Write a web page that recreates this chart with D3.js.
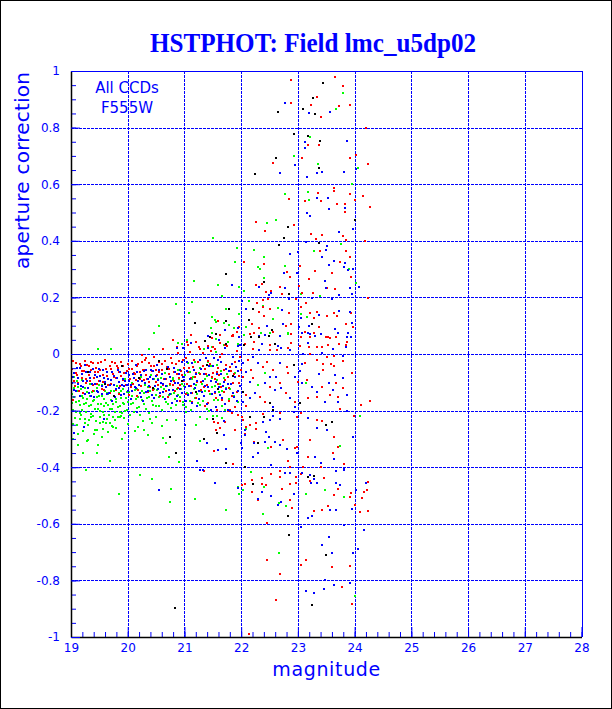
<!DOCTYPE html>
<html>
<head>
<meta charset="utf-8">
<script src="https://cdn.jsdelivr.net/npm/d3@7"></script>
<style>
  body { margin: 0; background: #fff; }
  svg { display: block; }
</style>
</head>
<body>
<div id="chart"></div>
<script>
// tick values and labels
var xTicks = [19, 20, 21, 22, 23, 24, 25, 26, 27, 28];
var yTicks = [-1, -0.8, -0.6, -0.4, -0.2, 0, 0.2, 0.4, 0.6, 0.8, 1];
var yTickLabels = ["-1", "-0.8", "-0.6", "-0.4", "-0.2", "0", "0.2", "0.4", "0.6", "0.8", "1"];

// points: [magnitude, aperture correction]
var redPts = [
  [22.87,0.968],[23.65,0.978],[23.79,0.948],[23.33,0.909],[22.87,0.886],[23.23,0.879],[23.72,0.876],[23.92,0.880],
  [23.40,0.837],[24.20,0.799],[23.17,0.739],[23.37,0.737],[23.07,0.693],[23.92,0.694],[24.03,0.704],[22.56,0.676],
  [24.23,0.672],[23.63,0.588],[23.63,0.575],[23.35,0.569],[23.92,0.565],[24.15,0.559],[22.84,0.549],[23.12,0.542],
  [23.40,0.541],[24.00,0.544],[23.69,0.530],[23.83,0.530],[24.28,0.520],
  [22.26,0.466],[22.93,0.455],[22.42,0.436],[23.23,0.424],[23.43,0.422],[23.79,0.417],[23.84,0.403],[23.83,0.502],
  [23.32,0.407],[24.19,0.400],[23.84,0.365],[23.39,0.364],[22.05,0.326],[22.41,0.319],[23.74,0.324],[23.92,0.344],
  [23.03,0.312],[22.80,0.291],[22.86,0.272],[23.30,0.294],[23.61,0.285],[23.19,0.264],[23.93,0.272],[22.26,0.245],
  [22.36,0.246],[22.68,0.238],[22.53,0.223],[22.43,0.219],[22.72,0.212],[23.52,0.233],[23.65,0.231],[23.02,0.241],
  [23.08,0.216],[23.27,0.217],[24.24,0.199],[22.38,0.191],[22.28,0.181],[22.47,0.195],[22.96,0.195],[23.33,0.149],
  [23.14,0.181],[22.38,0.165],[22.32,0.149],[22.50,0.158],[22.84,0.144],[23.05,0.165],[23.21,0.146],[23.51,0.134],
  [23.63,0.146],[23.69,0.135],[23.93,0.144],[23.29,0.128],[22.41,0.133],[21.96,0.094],[22.19,0.106],[22.79,0.100],
  [22.87,0.107],[23.37,0.096],[23.84,0.107],[23.97,0.094],[22.31,0.093],[22.56,0.079],[22.87,0.071],[21.85,0.067],
  [22.22,0.073],[23.05,0.061],[23.12,0.077],[23.50,0.061],[23.57,0.058],[23.68,0.059],[23.87,0.043],[21.72,0.033],
  [22.23,0.042],[22.50,0.031],[22.87,0.039],[22.83,0.022],[23.03,0.028],[23.53,0.031],[23.42,0.026],[23.73,0.034],
  [22.68,-0.413],[22.53,-0.425],[22.68,-0.434],[22.36,-0.439],[22.96,-0.434],[23.06,-0.424],[23.46,-0.439],[23.21,-0.448],
  [22.19,-0.445],[22.06,-0.459],[22.01,-0.463],[22.36,-0.459],[22.43,-0.463],[22.72,-0.476],[22.86,-0.459],[22.96,-0.455],
  [23.70,-0.476],[24.23,-0.453],[24.22,-0.481],[24.16,-0.487],[23.93,-0.492],[22.19,-0.488],[23.63,-0.498],[23.92,-0.504],
  [22.29,-0.515],[24.13,-0.510],[22.86,-0.515],[22.89,-0.544],[23.53,-0.536],[24.00,-0.533],[23.28,-0.554],[23.42,-0.551],
  [24.09,-0.557],[24.23,-0.554],[22.45,-0.596],[22.45,-0.729],[23.14,-0.728],[23.05,-0.746],[23.92,-0.749],[23.60,-0.753],
  [22.69,-0.778],[23.77,-0.823],[22.61,-0.868],[23.95,-0.883],[22.13,-0.990],
  [21.59,0.118],[21.63,0.068],[21.11,0.067],[21.85,0.064],[21.92,0.077],[20.79,0.049],[21.04,0.042],[21.20,0.042],
  [20.87,0.026],[21.62,0.040],[21.27,0.019],[21.41,0.028],[21.54,0.019],[21.34,-0.413],
  [21.52,-0.239],[21.60,-0.243],[21.80,-0.198],[22.03,-0.233],[22.02,-0.222],[21.55,-0.269],[21.62,-0.263],[22.09,-0.257],
  [22.07,-0.283],[22.23,-0.310],[21.52,-0.342],[21.86,-0.389],[24.27,-0.165],[24.11,-0.181],[23.99,-0.219],[23.74,-0.195],
  [23.64,-0.292],[23.71,-0.328],[23.62,-0.351],[23.81,-0.389],[23.33,-0.233],[23.42,-0.236],[23.21,-0.304],[23.18,-0.363],
  [23.40,-0.398],[23.09,-0.398],[22.98,-0.328],[22.95,-0.333],[22.83,-0.378],[22.74,-0.304],[22.53,-0.328],[22.27,-0.266],
  [22.26,-0.243],[22.38,-0.212],[22.15,-0.251],[21.89,-0.269],[22.06,-0.401],[22.86,-0.398],[22.68,-0.207],[22.98,-0.222],
  [23.06,-0.210],[21.83,-0.210],[21.71,-0.240],
  [22.15,0.070],[23.28,0.075],[23.21,0.059],[23.53,0.059],[22.06,0.034],[22.21,0.017],[22.50,0.014],[22.63,0.014],
  [23.33,0.024],[23.20,0.026],[23.84,0.032],[23.80,-0.024],[23.21,0.000],[23.52,-0.010],[23.64,-0.007],[23.33,-0.021],
  [23.12,-0.033],[23.44,-0.036],[23.58,-0.036],[23.63,-0.042],[23.95,-0.068],[23.44,-0.057],[23.00,-0.098],[23.16,-0.092],
  [23.43,-0.118],[23.67,-0.104],[23.56,-0.145],[23.71,-0.151],[23.33,-0.151],[23.18,-0.154],[23.80,-0.121],[22.81,-0.045],
  [22.83,-0.068],[22.56,-0.057],[22.68,-0.104],[22.79,-0.139],[22.95,-0.169],[22.45,-0.027],[22.39,-0.045],[22.50,-0.116],
  [22.42,-0.169],[22.33,-0.151],[22.09,-0.145],[22.09,-0.184],[22.21,-0.086],[22.03,-0.080],[22.18,-0.057],[22.12,-0.021],
  [21.98,-0.010],
  [19.02,-0.053],[19.05,-0.097],[19.08,-0.031],[19.11,-0.075],[19.14,-0.129],[19.17,-0.042],[19.20,-0.086],[19.23,-0.060],
  [19.26,-0.104],[19.29,-0.038],[19.32,-0.073],[19.35,-0.057],[19.38,-0.111],[19.41,-0.085],[19.44,-0.049],[19.47,-0.062],
  [19.50,-0.096],[19.53,-0.030],[19.56,-0.074],[19.59,-0.128],[19.62,-0.053],[19.65,-0.087],[19.68,-0.041],[19.71,-0.105],
  [19.74,-0.069],[19.77,-0.032],[19.80,-0.086],[19.83,-0.050],[19.86,-0.114],[19.89,-0.078],[19.92,-0.043],[19.95,-0.097],
  [19.98,-0.061],[20.01,-0.035],[20.04,-0.089],[20.07,-0.052],[20.10,-0.106],[20.13,-0.070],[20.16,-0.044],[20.19,-0.128],
  [20.22,-0.063],[20.25,-0.027],[20.28,-0.091],[20.31,-0.055],[20.34,-0.089],[20.37,-0.032],[20.40,-0.116],[20.43,-0.060],
  [20.46,-0.044],[20.49,-0.098],[20.52,-0.073],[20.55,-0.027],[20.58,-0.101],[20.61,-0.055],[20.64,-0.089],[20.67,-0.132],
  [20.70,-0.046],[20.73,-0.070],[20.76,-0.014],[20.79,-0.108],[20.82,-0.063],[20.85,-0.037],[20.88,-0.121],[20.91,-0.085],
  [20.94,-0.059],[20.97,-0.022],[21.00,-0.096],[21.03,-0.140],[21.06,-0.064],[21.09,0.008],[21.12,-0.113],[21.15,-0.047],
  [21.18,-0.081],[21.21,-0.155],[21.24,-0.029],[21.27,-0.072],[21.30,-0.126],[21.33,0.004],[21.36,-0.054],[21.39,-0.108],
  [21.42,-0.173],[21.45,-0.037],[21.48,-0.081],[21.51,0.025],[21.54,-0.139],[21.57,-0.062],[21.60,-0.106],[21.63,-0.010],
  [21.66,-0.164],[21.69,-0.058],[21.72,-0.093],[21.75,0.027],[21.78,-0.121],[21.81,-0.045],[21.84,-0.149],[21.87,-0.072],
  [21.90,-0.186],[21.93,0.010],[21.96,-0.104],[21.99,-0.058],[19.03,-0.163],[19.38,-0.032],[20.33,-0.015],[20.88,0.005],
  [19.04,-0.024],[19.09,-0.068],[19.12,-0.102],[19.16,-0.036],[19.19,-0.059],[19.24,-0.023],[19.27,-0.087],[19.31,-0.041],
  [19.34,-0.095],[19.36,-0.029],[19.42,-0.063],[19.45,-0.107],[19.48,-0.031],[19.52,-0.055],[19.57,-0.099],[19.60,-0.022],
  [19.63,-0.076],[19.66,-0.110],[19.70,-0.054],[19.72,-0.028],[19.76,-0.083],[19.79,-0.127],[19.81,-0.041],[19.85,-0.065],
  [19.88,-0.029],[19.91,-0.092],[19.94,-0.066],[19.97,-0.110],[20.02,-0.054],[20.05,-0.118],[20.08,-0.023],[20.11,-0.067],
  [20.14,-0.091],[20.18,-0.035],[20.21,-0.089],[20.24,-0.112],[20.27,-0.056],[20.30,-0.020],[20.33,-0.074],[20.38,-0.098],
  [20.41,-0.043],[20.44,-0.127],[20.47,-0.011],[20.50,-0.055],[20.53,-0.109],[20.56,-0.062],[20.60,-0.036],[20.62,-0.110],
  [20.65,-0.024],[20.68,-0.088],[20.72,-0.053],[20.74,-0.107],[20.78,-0.031],[20.81,-0.095],[20.83,-0.129],[20.86,-0.072],
  [20.90,-0.026],[20.93,-0.110],[20.96,-0.074],[20.99,-0.048],[21.02,-0.013],[21.05,-0.107],[21.08,-0.051],[21.11,-0.085],
  [21.14,-0.139],[21.17,-0.022],[21.20,-0.066],[21.23,-0.100],[21.26,0.024],[21.29,-0.098],[21.32,-0.043],[21.35,-0.117],
  [21.38,-0.071],[21.41,-0.025],[21.44,-0.129],[21.47,0.012],[21.50,-0.066],[21.53,-0.090],[21.56,-0.154],[21.59,-0.048],
  [21.61,-0.073],[21.64,-0.117],[21.67,0.001],[21.70,-0.135],[21.73,-0.039],[21.76,-0.082],[21.79,-0.166],[21.82,-0.060],
  [21.86,-0.104],[21.89,-0.028],[21.92,-0.133],[21.97,-0.077],
  [19.07,-0.113],[19.21,-0.137],[19.39,-0.131],[19.54,-0.125],[19.69,-0.139],[19.84,-0.142],[20.03,-0.146],[20.17,-0.150],
  [20.36,-0.134],[20.57,-0.148],[20.71,-0.152],[20.92,-0.166],[21.13,-0.170],[21.37,-0.184],[21.58,-0.198],[21.77,-0.202],
  [21.94,-0.216],[20.26,-0.003],[20.63,0.017],[21.06,0.031],[21.49,0.055],[21.83,0.062]
];

var bluePts = [
  [22.77,0.886],[23.19,0.853],[23.56,0.855],[23.86,0.754],[23.12,0.750],[23.12,0.728],[22.95,0.667],[24.02,0.654],
  [22.68,0.641],[23.33,0.639],[23.42,0.642],[23.81,0.643],[23.16,0.627],[23.33,0.552],[23.53,0.550],[23.54,0.511],
  [23.83,0.515],[23.16,0.497],[23.22,0.488],[23.72,0.431],[23.97,0.441],[23.51,0.383],[23.15,0.396],[23.50,0.367],
  [22.86,0.354],[23.00,0.361],[23.43,0.344],[23.63,0.329],[23.83,0.320],[23.55,0.313],[23.81,0.308],[23.88,0.297],
  [23.98,0.300],[22.76,0.285],[22.98,0.287],[23.47,0.259],[21.83,0.244],[22.32,0.236],[22.77,0.233],[23.49,0.233],
  [23.91,0.233],[24.07,0.238],[22.49,0.208],[22.53,0.214],[23.72,0.208],[23.96,0.211],[22.01,0.188],[22.84,0.195],
  [23.24,0.197],[23.61,0.193],[22.08,0.158],[22.72,0.157],[23.37,0.139],[23.73,0.152],[23.92,0.148],[23.06,0.126],
  [22.73,0.107],[23.02,0.096],[23.20,0.099],[23.66,0.089],[23.95,0.110],[22.46,0.099],[22.42,0.068],[22.68,0.065],
  [23.21,0.071],[23.30,0.064],[23.71,0.075],[23.89,0.073],[23.93,0.059],[22.36,0.036],[22.65,0.029],[23.18,0.038],
  [23.84,0.026],
  [22.77,-0.419],[22.86,-0.419],[23.07,-0.419],[23.21,-0.428],[23.67,-0.413],[23.81,-0.410],[23.28,-0.442],[23.23,-0.455],
  [23.33,-0.455],[21.94,-0.473],[23.68,-0.455],[23.75,-0.462],[24.02,-0.480],[24.20,-0.455],[22.36,-0.488],[22.93,-0.495],
  [22.29,-0.511],[22.53,-0.502],[22.70,-0.522],[22.65,-0.533],[23.95,-0.548],[23.56,-0.551],[23.67,-0.551],[23.24,-0.572],
  [23.17,-0.581],[23.82,-0.604],[23.05,-0.612],[24.17,-0.622],[23.54,-0.648],[23.42,-0.674],[24.06,-0.689],[23.97,-0.702],
  [23.61,-0.702],[23.47,-0.799],[23.92,-0.808],[23.63,-0.816],[23.46,-0.829],[23.14,-0.839],[23.28,-0.845],
  [21.94,0.092],[21.41,0.064],[21.72,0.085],[21.61,0.049],[21.11,0.040],[21.95,0.029],[20.86,0.022],[20.98,0.021],
  [21.42,0.022],[21.71,0.021],[20.55,-0.481],[21.28,-0.410],[21.53,-0.456],
  [19.58,-0.231],[19.23,-0.257],[19.06,-0.280],[20.16,-0.204],[21.01,-0.250],[21.69,-0.236],[21.40,-0.313],[21.69,-0.286],
  [22.07,-0.269],[22.02,-0.333],[22.21,-0.363],[21.23,-0.377],[21.59,-0.339],[21.74,-0.337],[21.33,-0.410],[22.23,-0.316],
  [23.86,-0.200],[23.97,-0.294],[23.64,-0.372],[23.81,-0.407],[23.33,-0.263],[23.52,-0.269],[23.18,-0.227],[23.30,-0.363],
  [23.40,-0.384],[22.98,-0.351],[22.81,-0.337],[22.68,-0.322],[22.59,-0.310],[22.49,-0.292],[22.42,-0.310],[22.30,-0.351],
  [22.43,-0.275],[22.39,-0.239],[22.50,-0.233],[22.68,-0.231],[22.16,-0.224],[22.06,-0.286],[22.00,-0.316],[22.53,-0.392],
  [22.56,-0.219],[22.93,-0.206],
  [21.96,0.061],[22.32,0.064],[23.08,0.075],[23.18,0.073],[23.40,0.071],[23.86,0.059],[21.98,0.032],[22.32,0.014],
  [22.71,0.020],[22.86,0.014],[23.62,0.017],[23.80,-0.006],[23.42,0.002],[23.09,0.000],[23.08,-0.035],[23.37,-0.071],
  [23.03,-0.059],[22.95,-0.080],[23.07,-0.104],[23.24,-0.116],[23.34,-0.133],[23.55,-0.101],[23.62,-0.127],[23.47,-0.169],
  [23.70,-0.170],[23.86,-0.145],[23.80,-0.086],[23.65,-0.074],[22.68,-0.033],[22.62,-0.080],[22.71,-0.121],[22.86,-0.157],
  [22.95,-0.186],[22.30,-0.033],[22.50,-0.080],[22.42,-0.101],[22.59,-0.127],[22.56,-0.188],[22.24,-0.139],[22.15,-0.157],
  [22.03,-0.169],[22.15,-0.098],[22.09,-0.063],[22.21,-0.010],[22.03,-0.033],
  [19.03,-0.083],[19.06,-0.127],[19.10,-0.051],[19.13,-0.105],[19.16,-0.149],[19.19,-0.072],[19.22,-0.116],[19.25,-0.040],
  [19.28,-0.094],[19.31,-0.138],[19.34,-0.063],[19.37,-0.107],[19.40,-0.151],[19.43,-0.075],[19.46,-0.129],[19.49,-0.052],
  [19.52,-0.096],[19.55,-0.140],[19.58,-0.084],[19.61,-0.118],[19.64,-0.063],[19.67,-0.137],[19.70,-0.091],[19.73,-0.165],
  [19.76,-0.079],[19.79,-0.122],[19.82,-0.056],[19.85,-0.100],[19.88,-0.144],[19.91,-0.088],[19.94,-0.113],[19.97,-0.067],
  [20.00,-0.131],[20.03,-0.095],[20.06,-0.159],[20.09,-0.072],[20.12,-0.116],[20.15,-0.040],[20.18,-0.094],[20.21,-0.138],
  [20.24,-0.073],[20.27,-0.167],[20.30,-0.101],[20.33,-0.055],[20.36,-0.129],[20.39,-0.082],[20.42,-0.146],[20.45,-0.060],
  [20.48,-0.114],[20.51,-0.038],[20.54,-0.093],[20.57,-0.137],[20.60,-0.071],[20.63,-0.105],[20.66,-0.159],[20.69,-0.052],
  [20.72,-0.126],[20.75,-0.080],[20.78,-0.174],[20.81,-0.048],[20.84,-0.103],[20.87,-0.147],[20.90,-0.071],[20.93,-0.125],
  [20.96,-0.029],[20.99,-0.092],[21.02,-0.166],[21.05,-0.060],[21.08,-0.114],[21.11,-0.138],[21.14,-0.033],[21.17,-0.107],
  [21.20,-0.071],[21.23,-0.185],[21.26,-0.129],[21.29,-0.052],[21.32,-0.096],[21.35,-0.150],[21.38,-0.014],[21.41,-0.118],
  [21.44,-0.073],[21.47,-0.197],[21.50,-0.041],[21.53,-0.135],[21.56,-0.099],[21.59,-0.022],[21.62,-0.146],[21.65,-0.070],
  [21.68,-0.114],[21.71,-0.178],[21.74,-0.053],[21.77,-0.107],[21.80,-0.201],[21.83,-0.035],[21.86,-0.139],[21.89,-0.082],
  [21.92,-0.166],[21.95,-0.060],[21.98,-0.114],
  [19.02,-0.104],[19.05,-0.068],[19.08,-0.132],[19.12,-0.086],[19.15,-0.049],[19.18,-0.113],[19.21,-0.097],[19.24,-0.141],
  [19.27,-0.065],[19.30,-0.119],[19.33,-0.084],[19.36,-0.148],[19.39,-0.052],[19.42,-0.106],[19.45,-0.080],[19.48,-0.134],
  [19.51,-0.078],[19.54,-0.112],[19.57,-0.056],[19.60,-0.099],[19.63,-0.143],[19.66,-0.087],[19.69,-0.111],[19.72,-0.065],
  [19.75,-0.109],[19.78,-0.152],[19.81,-0.086],[19.84,-0.120],[19.87,-0.064],[19.90,-0.108],[19.93,-0.143],[19.96,-0.097],
  [19.99,-0.111],[20.02,-0.075],[20.05,-0.109],[20.08,-0.132],[20.11,-0.086],[20.14,-0.120],[20.17,-0.064],[20.20,-0.108],
  [20.23,-0.153],[20.26,-0.097],[20.29,-0.061],[20.32,-0.135],[20.35,-0.089],[20.38,-0.112],[20.41,-0.056],[20.44,-0.090],
  [20.47,-0.154],[20.50,-0.078],[20.53,-0.123],[20.56,-0.057],[20.59,-0.101],[20.62,-0.135],[20.65,-0.089],[20.68,-0.112],
  [20.71,-0.046],[20.74,-0.140],[20.77,-0.094],[20.80,-0.128],[20.83,-0.063],[20.86,-0.167],[20.89,-0.101],[20.92,-0.055],
  [20.95,-0.139],[20.98,-0.082],[21.01,-0.116],[21.04,-0.030],[21.07,-0.144],[21.10,-0.088],[21.13,-0.173],[21.16,-0.057],
  [21.19,-0.121],[21.22,-0.095],[21.25,-0.159],[21.28,-0.022],[21.31,-0.136],[21.34,-0.070],[21.37,-0.114],[21.40,-0.178],
  [21.43,-0.043],[21.46,-0.097],[21.49,-0.141],[21.52,-0.015],[21.55,-0.189],[21.58,-0.072],[21.61,-0.116],[21.64,-0.030],
  [21.67,-0.154],[21.70,-0.098],[21.73,-0.123],[21.76,-0.197],[21.79,-0.061],[21.82,-0.105],[21.85,-0.009],[21.88,-0.152],
  [21.91,-0.046],[21.94,-0.130],[21.97,-0.024]
];

var greenPts = [
  [23.79,0.921],[23.67,0.866],[23.21,0.767],[22.93,0.699],[23.35,0.670],[24.06,0.658],[23.96,0.601],[22.77,0.565],
  [23.17,0.572],[23.19,0.543],[22.45,0.463],[22.62,0.473],[23.76,0.390],[21.92,0.376],[22.23,0.367],[23.29,0.365],
  [21.90,0.326],[22.40,0.342],[22.78,0.312],[22.29,0.308],[22.34,0.300],[23.90,0.301],[22.41,0.269],[21.96,0.238],
  [22.05,0.223],[24.03,0.251],[23.05,0.212],[21.67,0.204],[22.13,0.188],[23.39,0.204],[21.73,0.158],[22.39,0.170],
  [21.96,0.141],[22.65,0.161],[23.05,0.140],[23.16,0.130],[22.56,0.123],[21.69,0.111],[21.87,0.092],[22.09,0.096],
  [22.35,0.074],[22.83,0.073],[22.05,0.068],[21.95,0.034],
  [21.95,-0.469],[22.40,-0.469],[23.47,-0.481],[22.04,-0.481],[21.96,-0.494],[23.14,-0.495],[23.81,-0.506],[22.66,-0.528],
  [22.79,-0.537],[21.73,-0.551],[22.38,-0.565],[22.66,-0.702],[24.00,-0.855],
  [21.50,0.411],[21.59,0.244],[21.16,0.259],[21.13,0.184],[20.85,0.177],[21.08,0.144],[20.56,0.100],[21.48,0.132],
  [21.53,0.120],[21.56,0.113],[21.78,0.102],[20.47,0.075],[21.46,0.092],[21.48,0.075],[21.55,0.054],[20.89,0.040],
  [20.95,0.035],[21.05,0.049],[21.48,0.026],[19.47,0.017],[19.70,0.017],[20.37,0.017],[20.79,0.049],
  [19.26,-0.410],[20.21,-0.426],[20.42,-0.442],[20.76,-0.477],[19.84,-0.495],[20.74,-0.523],[21.19,-0.512],
  [19.15,-0.207],[19.36,-0.224],[19.58,-0.216],[19.74,-0.224],[19.86,-0.224],[19.89,-0.219],[19.24,-0.245],[19.51,-0.245],
  [19.68,-0.245],[19.74,-0.259],[19.56,-0.265],[19.46,-0.269],[19.04,-0.300],[19.28,-0.307],[19.12,-0.322],[19.47,-0.322],
  [19.96,-0.280],[20.18,-0.257],[20.29,-0.269],[20.27,-0.236],[20.39,-0.231],[20.42,-0.245],[20.62,-0.298],[20.67,-0.316],
  [20.73,-0.365],[20.90,-0.381],[19.22,-0.351],[19.46,-0.351],[19.68,-0.379],[21.02,-0.206],[20.85,-0.233],[20.69,-0.233],
  [21.20,-0.251],[21.28,-0.224],[21.39,-0.230],[21.66,-0.226],[21.58,-0.219],[21.28,-0.306],[23.75,-0.326],[24.09,-0.219],
  [22.09,-0.266],[22.47,-0.333],[22.18,-0.416],[22.50,0.075],[22.82,0.071],[23.15,-0.104],[22.42,-0.068],[22.30,-0.110],
  [19.01,-0.143],[19.03,-0.197],[19.05,-0.121],[19.07,-0.225],[19.09,-0.169],[19.11,-0.252],[19.13,-0.116],[19.15,-0.180],
  [19.17,-0.214],[19.19,-0.148],[19.21,-0.273],[19.23,-0.177],[19.25,-0.121],[19.27,-0.205],[19.29,-0.159],[19.31,-0.232],
  [19.33,-0.106],[19.35,-0.180],[19.37,-0.134],[19.39,-0.218],[19.41,-0.163],[19.43,-0.267],[19.45,-0.121],[19.47,-0.195],
  [19.49,-0.149],[19.51,-0.222],[19.53,-0.176],[19.55,-0.110],[19.57,-0.204],[19.59,-0.158],[19.61,-0.243],[19.63,-0.137],
  [19.65,-0.181],[19.67,-0.215],[19.69,-0.109],[19.71,-0.162],[19.73,-0.196],[19.75,-0.130],[19.77,-0.234],[19.79,-0.158],
  [19.81,-0.113],[19.83,-0.187],[19.85,-0.141],[19.87,-0.205],[19.89,-0.129],[19.91,-0.172],[19.93,-0.226],[19.95,-0.090],
  [19.97,-0.154],[19.99,-0.198],[20.02,-0.133],[20.05,-0.177],[20.08,-0.101],[20.11,-0.205],[20.14,-0.159],[20.17,-0.122],
  [20.20,-0.186],[20.23,-0.080],[20.26,-0.164],[20.29,-0.138],[20.32,-0.193],[20.35,-0.117],[20.38,-0.151],[20.41,-0.075],
  [20.44,-0.179],[20.47,-0.122],[20.50,-0.146],[20.53,-0.090],[20.56,-0.184],[20.59,-0.118],[20.62,-0.153],[20.65,-0.067],
  [20.68,-0.131],[20.71,-0.175],[20.74,-0.109],[20.77,-0.142],[20.80,-0.086],[20.83,-0.160],[20.86,-0.124],[20.89,-0.058],
  [20.92,-0.153],[20.95,-0.107],[20.98,-0.181],[21.01,-0.075],[21.04,-0.139],[21.07,-0.032],[21.10,-0.166],[21.13,-0.090],
  [21.16,-0.124],[21.19,-0.028],[21.22,-0.143],[21.25,-0.067],[21.28,-0.181],[21.31,-0.105],[21.34,0.019],[21.37,-0.132],
  [21.40,-0.076],[21.43,-0.200],[21.46,-0.044],[21.49,-0.118],[21.52,-0.163],[21.55,0.007],[21.58,-0.091],[21.61,-0.135],
  [21.64,-0.059],[21.67,-0.182],[21.70,-0.086],[21.73,-0.120],[21.76,0.044],[21.79,-0.158],[21.85,-0.103],[21.90,-0.067],
  [21.95,-0.171],
  [19.02,-0.174],[19.04,-0.248],[19.06,-0.152],[19.08,-0.206],[19.10,-0.130],[19.12,-0.283],[19.14,-0.167],[19.16,-0.231],
  [19.18,-0.125],[19.20,-0.199],[19.22,-0.154],[19.24,-0.228],[19.26,-0.172],[19.28,-0.136],[19.30,-0.250],[19.32,-0.183],
  [19.34,-0.147],[19.36,-0.211],[19.38,-0.165],[19.40,-0.129],[19.42,-0.194],[19.44,-0.238],[19.46,-0.152],[19.48,-0.176],
  [19.50,-0.110],[19.52,-0.203],[19.54,-0.147],[19.56,-0.241],[19.58,-0.185],[19.60,-0.129],[19.62,-0.174],[19.64,-0.228],
  [19.66,-0.142],[19.68,-0.196],[19.70,-0.130],[19.72,-0.253],[19.74,-0.177],[19.76,-0.111],[19.78,-0.205],[19.80,-0.169],
  [19.82,-0.224],[19.84,-0.138],[19.86,-0.182],[19.88,-0.156],[19.90,-0.210],[19.92,-0.123],[19.94,-0.177],[19.96,-0.201],
  [19.98,-0.135],[20.01,-0.169],[20.04,-0.214],[20.07,-0.148],[20.10,-0.172],[20.13,-0.126],[20.16,-0.190],[20.19,-0.153],
  [20.22,-0.217],[20.25,-0.131],[20.28,-0.175],[20.31,-0.109],[20.34,-0.154],[20.37,-0.208],[20.40,-0.132],[20.43,-0.166],
  [20.46,-0.090],[20.49,-0.183],[20.52,-0.127],[20.55,-0.151],[20.58,-0.085],[20.61,-0.199],[20.64,-0.124],[20.67,-0.168],
  [20.70,-0.112],[20.73,-0.146],[20.76,-0.190],[20.79,-0.093],[20.82,-0.137],[20.85,-0.181],[20.88,-0.145],[20.91,-0.089],
  [20.94,-0.124],[20.97,-0.168],[21.00,-0.112],[21.03,-0.186],[21.06,-0.140],[21.09,-0.063],[21.12,-0.197],[21.15,-0.081],
  [21.18,-0.155],[21.21,-0.109],[21.24,-0.174],[21.27,-0.048],[21.30,-0.132],[21.33,-0.166],[21.36,-0.090],[21.39,-0.193],
  [21.42,-0.027],[21.45,-0.141],[21.48,-0.085],[21.51,-0.219],[21.54,-0.114],[21.57,-0.038],[21.60,-0.162],[21.63,-0.106],
  [21.66,-0.130],[21.69,0.033],[21.72,-0.197],[21.75,-0.071],[21.81,-0.125],[21.88,-0.149],
  [19.05,-0.083],[19.10,-0.097],[19.20,-0.091],[19.30,-0.305],[19.40,-0.284],[19.55,-0.293],[19.65,-0.276],[19.80,-0.262],
  [19.90,-0.301],[20.00,-0.247],[20.12,-0.273],[20.35,-0.286],[20.50,-0.224],[20.60,-0.255]
];

var blackPts = [
  [23.45,0.957],[23.26,0.906],[23.09,0.865],[22.65,0.855],[23.30,0.849],[22.93,0.778],[23.17,0.769],[23.39,0.754],
  [22.62,0.694],[23.37,0.658],[22.24,0.636],[22.82,0.448],[24.00,0.473],[22.76,0.411],[23.37,0.393],[22.66,0.386],
  [21.74,0.282],[22.40,0.254],[22.84,0.212],[21.79,0.158],[22.20,0.160],[21.74,0.118],[22.14,0.120],[23.25,0.106],
  [22.55,0.086],[22.32,0.061],[22.17,0.059],[21.74,0.036],[22.05,0.033],[22.59,0.035],
  [23.17,-0.434],[23.29,-0.430],[22.20,-0.459],[22.82,-0.571],[22.84,-0.640],[23.50,-0.710],[23.25,-0.887],[20.84,-0.896],
  [21.18,0.111],[21.55,0.071],[21.45,0.061],[21.36,0.045],
  [21.50,-0.231],[22.15,-0.224],[21.35,-0.301],[21.58,-0.280],[20.74,-0.294],[20.85,-0.349],[21.74,-0.386],[22.07,-0.400],
  [23.60,-0.239],[23.50,-0.251],[22.30,-0.313],[22.40,-0.224],[22.56,-0.198],[22.49,0.064],[22.94,-0.040],[23.03,-0.174],
  [22.50,-0.174],[22.03,-0.133],
  [19.30,-0.063],[19.60,-0.107],[19.90,-0.041],[20.20,-0.085],[20.45,-0.119],[20.70,-0.052],[20.95,-0.096],[21.20,-0.134],
  [21.40,-0.038],[21.60,-0.122],[21.85,-0.077],[20.55,-0.026],[19.75,-0.148]
];

var w = 612,
    h = 709,
    svg = d3.select("#chart")
            .append("svg")
            .attr("width", w)
            .attr("height", h)
            .style("font-family", "DejaVu Sans"),
    x = d3.scaleLinear().domain([19, 28]).range([71, 581.5]),
    y = d3.scaleLinear().domain([-1, 1]).range([637, 71]);

var blue = "#0000ff";

// outer black frame
svg.append("rect")
    .attr("x", 0.5).attr("y", 0.5)
    .attr("width", w - 1).attr("height", h - 1)
    .attr("fill", "white")
    .attr("stroke", "black");

// title
svg.append("text")
    .attr("x", 313)
    .attr("y", 52)
    .attr("text-anchor", "middle")
    .attr("font-family", "Liberation Serif")
    .attr("font-weight", "bold")
    .attr("font-size", 27)
    .attr("textLength", 326)
    .attr("lengthAdjust", "spacingAndGlyphs")
    .attr("fill", blue)
    .text("HSTPHOT: Field lmc_u5dp02");

// dashed grid
var grid = svg.append("g")
    .attr("stroke", blue)
    .attr("stroke-width", 1)
    .attr("stroke-dasharray", "3,1")
    .attr("shape-rendering", "crispEdges");

grid.selectAll(".vx")
    .data(xTicks.slice(1, -1))
    .enter().append("line")
    .attr("x1", function(d) { return Math.round(x(d)) + 0.5; })
    .attr("x2", function(d) { return Math.round(x(d)) + 0.5; })
    .attr("y1", y(1))
    .attr("y2", y(-1));

grid.selectAll(".hy")
    .data(yTicks.slice(1, -1))
    .enter().append("line")
    .attr("y1", function(d) { return Math.round(y(d)) + 0.5; })
    .attr("y2", function(d) { return Math.round(y(d)) + 0.5; })
    .attr("x1", x(19))
    .attr("x2", x(28));

// points
function render_points(pts, color) {
    svg.append("g")
        .attr("shape-rendering", "crispEdges")
        .selectAll("rect")
        .data(pts)
        .enter().append("rect")
        .attr("x", function(d) { return Math.round(x(d[0])) - 1; })
        .attr("y", function(d) { return Math.round(y(d[1])) - 1; })
        .attr("width", 2)
        .attr("height", 2)
        .attr("fill", color);
}

render_points(greenPts, "#00ff00");
render_points(redPts, "#ff0000");
render_points(bluePts, blue);
render_points(blackPts, "black");

// frame: top and right in blue, axes left and bottom in black
var frame = svg.append("g").attr("shape-rendering", "crispEdges");
frame.append("line")
    .attr("x1", x(19)).attr("x2", x(28) + 1)
    .attr("y1", y(1) + 0.5).attr("y2", y(1) + 0.5)
    .attr("stroke", blue);
frame.append("line")
    .attr("x1", Math.round(x(28)) + 0.5).attr("x2", Math.round(x(28)) + 0.5)
    .attr("y1", y(1)).attr("y2", y(-1))
    .attr("stroke", blue);

// x axis ticks
var minorX = d3.range(19, 28.001, 0.2);
svg.append("g")
    .attr("transform", "translate(0," + y(-1) + ")")
    .call(d3.axisBottom(x).tickValues(minorX).tickSize(-5).tickSizeOuter(0).tickFormat(""))
    .call(function(g) { g.selectAll("line").attr("stroke", blue); g.select(".domain").remove(); });

var xAxis = svg.append("g")
    .attr("transform", "translate(0," + y(-1) + ")")
    .call(d3.axisBottom(x).tickValues(xTicks).tickSize(-10).tickSizeOuter(0).tickFormat(d3.format("d")));
xAxis.select(".domain").attr("stroke", "black").attr("stroke-width", 1.5);
xAxis.selectAll("line").attr("stroke", blue);
xAxis.selectAll("text")
    .attr("y", 15)
    .attr("dy", 0)
    .attr("fill", blue)
    .attr("font-family", "DejaVu Sans")
    .attr("font-size", 12);

// y axis ticks
var minorY = d3.range(-1, 1.001, 0.05);
svg.append("g")
    .attr("transform", "translate(" + x(19) + ",0)")
    .call(d3.axisLeft(y).tickValues(minorY).tickSize(-5).tickSizeOuter(0).tickFormat(""))
    .call(function(g) { g.selectAll("line").attr("stroke", blue); g.select(".domain").remove(); });

var yAxis = svg.append("g")
    .attr("transform", "translate(" + x(19) + ",0)")
    .call(d3.axisLeft(y).tickValues(yTicks).tickSize(-9).tickSizeOuter(0)
          .tickFormat(function(d, i) { return yTickLabels[i]; }));
yAxis.select(".domain").attr("stroke", "black").attr("stroke-width", 1.5);
yAxis.selectAll("line").attr("stroke", blue);
yAxis.selectAll("text")
    .attr("x", -11)
    .attr("fill", blue)
    .attr("font-family", "DejaVu Sans")
    .attr("font-size", 12);

// axis titles
svg.append("text")
    .attr("x", (x(19) + x(28)) / 2)
    .attr("y", 676)
    .attr("text-anchor", "middle")
    .attr("font-size", 19)
    .attr("textLength", 108)
    .attr("fill", blue)
    .text("magnitude");

svg.append("text")
    .attr("transform", "translate(29,72) rotate(-90)")
    .attr("text-anchor", "end")
    .attr("font-size", 20)
    .attr("textLength", 197)
    .attr("fill", blue)
    .text("aperture correction");

// in-plot label
svg.append("text")
    .attr("x", 127).attr("y", 93)
    .attr("text-anchor", "middle")
    .attr("font-size", 15)
    .attr("fill", blue)
    .text("All CCDs");
svg.append("text")
    .attr("x", 127).attr("y", 113)
    .attr("text-anchor", "middle")
    .attr("font-size", 15)
    .attr("fill", blue)
    .text("F555W");
</script>
</body>
</html>
